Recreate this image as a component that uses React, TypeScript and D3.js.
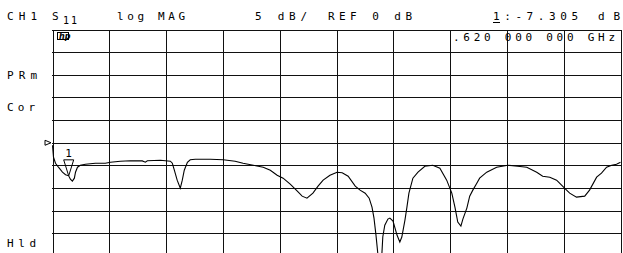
import * as d3 from "d3"

// sweep 0.05 - 20.05 GHz, 5 dB/div, ref 0 dB at centre line
const freqGHz = [
  0.05, 0.085, 0.155, 0.26, 0.40, 0.51, 0.62, 0.68, 0.75, 0.82, 0.86, 0.93, 1.03, 1.21, 1.56, 1.91,
  2.09, 2.44, 2.79, 3.21, 3.32, 3.39, 3.85, 4.20, 4.27, 4.34, 4.44, 4.55, 4.62, 4.69, 4.80, 4.90,
  5.08, 5.60, 6.06, 6.48, 6.76, 7.12, 7.47, 7.72, 7.96, 8.17, 8.42, 8.67, 8.84, 9.01, 9.22, 9.40,
  9.58, 9.82, 10.07, 10.25, 10.46, 10.71, 10.88, 11.06, 11.20, 11.30, 11.37, 11.44, 11.51, 11.58,
  11.65, 11.68, 11.75, 11.86, 11.93, 12.04, 12.18, 12.28, 12.35, 12.46, 12.53, 12.60, 12.74, 12.92,
  13.16, 13.44, 13.69, 13.93, 14.11, 14.22, 14.32, 14.43, 14.50, 14.64, 14.74, 14.85, 14.99, 15.09,
  15.34, 15.69, 16.08, 16.43, 16.75, 17.10, 17.31, 17.56, 17.80, 18.08, 18.26, 18.50, 18.79, 18.96,
  19.21, 19.38, 19.56, 19.74, 19.91, 20.05,
]
const magDb = [
  -0.55, -3.19, -4.52, -5.40, -6.50, -7.05, -7.305, -8.04, -8.48, -7.82, -6.50, -5.40, -4.96, -4.74, -4.52, -4.52,
  -4.30, -4.08, -3.97, -4.01, -4.30, -3.97, -3.86, -4.08, -4.52, -6.06, -8.26, -10.02, -8.26, -6.06, -4.30, -3.75,
  -3.64, -3.64, -3.75, -4.08, -4.52, -4.96, -5.40, -6.06, -7.16, -7.82, -9.14, -10.68, -11.79, -12.23, -11.13, -9.58,
  -8.26, -7.16, -6.50, -6.61, -7.38, -9.58, -10.46, -11.13, -12.23, -14.21, -16.63, -20.38, -24.8, -27.6,
  -24.3, -20.8, -18.2, -16.85, -16.63, -17.29, -20.38, -21.92, -20.82, -17.07, -14.21, -11.13, -7.82, -6.50,
  -5.18, -4.96, -5.62, -8.26, -11.13, -14.21, -17.51, -18.39, -16.85, -14.43, -11.79, -10.46, -8.92, -7.82,
  -6.50, -5.40, -4.96, -5.18, -5.40, -6.50, -7.38, -7.60, -8.26, -10.02, -11.13, -12.01, -11.79, -10.46,
  -7.60, -6.72, -5.40, -4.96, -4.74, -4.30,
]

const startGHz = 0.05
const stopGHz = 20.05
const scaleDiv = 5
const refDb = 0
const markerGHz = 0.62
const markerDb = -7.305

const W = 623
const H = 253
const font = "'DejaVu Sans Mono', monospace"

export default function App() {
  const x = d3.scaleLinear().domain([startGHz, stopGHz]).range([52.5, 620.5])
  const y = d3.scaleLinear().domain([refDb - 5 * scaleDiv, refDb + 5 * scaleDiv]).range([256, 29.5])

  const xGrid = d3.range(11).map(i => startGHz + i * (stopGHz - startGHz) / 10)
  const yGrid = d3.range(11).map(i => refDb - 5 * scaleDiv + i * scaleDiv)

  const line = d3.line<number>()
    .x((d, i) => x(freqGHz[i]))
    .y(d => y(d))
    .curve(d3.curveLinear)

  const mx = x(markerGHz)
  const my = y(markerDb)
  const ry = y(refDb)

  const txt = (s: string, tx: number, ty: number, len?: number, size = 11) => (
    <text x={tx} y={ty} fontSize={size} fontFamily={font} fill="#000"
      textLength={len} lengthAdjust={len ? "spacing" : undefined}>{s}</text>
  )

  return (
    <div style={{ position: "absolute", left: 0, top: 0 }}>
      <svg width={W} height={H} style={{ display: "block", background: "#fff" }}>
        <g stroke="#111" strokeWidth={1} shapeRendering="crispEdges">
          {xGrid.map((f, i) => (
            <line key={"v" + i} x1={Math.round(x(f)) + 0.5} x2={Math.round(x(f)) + 0.5} y1={29.5} y2={H} />
          ))}
          {yGrid.map((v, i) => (
            <line key={"h" + i} x1={52} x2={621} y1={Math.round(y(v)) + 0.5} y2={Math.round(y(v)) + 0.5} />
          ))}
        </g>

        {/* header */}
        {txt("CH1", 7, 20, 30)}
        {txt("S", 52, 20)}
        {txt("1 1", 63, 23.5, 14, 10)}
        {txt("log MAG", 117, 20, 68)}
        {txt("5 dB/", 255, 20, 52)}
        {txt("REF 0 dB", 328, 20, 84)}
        {txt("1:-7.305", 493, 20, 85)}
        <line x1={493} x2={500} y1={22.5} y2={22.5} stroke="#000" strokeWidth={1} />
        {txt("dB", 598, 20, 22)}
        {txt(".620 000 000 GHz", 453, 41, 162)}

        {/* hp logo */}
        <rect x={57.5} y={32.5} width={11} height={7} fill="#fff" stroke="#000" strokeWidth={1} />
        <text x={59} y={39} fontSize={8} fontStyle="italic" fontWeight="bold" fontFamily="'DejaVu Sans', sans-serif">hp</text>

        {/* left annotations */}
        {txt("PRm", 7, 79, 30)}
        {txt("Cor", 7, 111, 28)}
        {txt("Hld", 7, 247, 29)}

        {/* reference position marker */}
        <path d={`M45,${ry - 2.5} L51,${ry} L45,${ry + 2.5} Z`} fill="none" stroke="#000" strokeWidth={1} />

        {/* trace */}
        <path d={line(magDb) || ""} fill="none" stroke="#000" strokeWidth={1.1} />

        {/* marker 1 */}
        <path d={`M${mx - 5},${my - 16} L${mx + 5},${my - 16} L${mx},${my} Z`} fill="none" stroke="#000" strokeWidth={1} />
        {txt("1", mx - 3.5, my - 19, undefined, 11)}
      </svg>
    </div>
  )
}
